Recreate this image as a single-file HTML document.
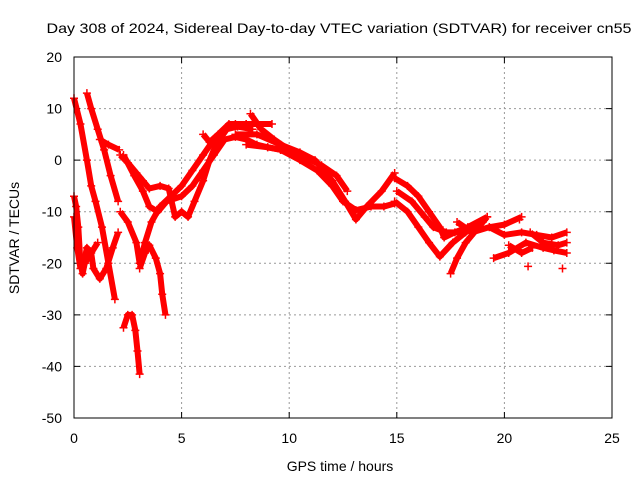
<!DOCTYPE html>
<html><head><meta charset="utf-8">
<style>
html,body{margin:0;padding:0;background:#fff;}
svg{display:block;font-family:"Liberation Sans",Arial,sans-serif;}
</style></head>
<body>
<svg id="chart" width="640" height="480" viewBox="0 0 640 480" xmlns="http://www.w3.org/2000/svg">
<rect width="640" height="480" fill="#fff"/>
<text x="339" y="33" font-size="14" text-anchor="middle" textLength="585" lengthAdjust="spacingAndGlyphs">Day 308 of 2024, Sidereal Day-to-day VTEC variation (SDTVAR) for receiver cn55</text>
<g id="grid"></g>
<g id="axes"></g>
<g id="series"></g>
<rect x="74" y="57" width="538" height="361" fill="none" stroke="#000" stroke-width="1"/>
<text x="340" y="471" font-size="14" text-anchor="middle">GPS time / hours</text>
<text x="0" y="0" font-size="14" text-anchor="middle" transform="translate(19,238) rotate(-90)">SDTVAR / TECUs</text>
</svg>
<script>
const xTicks = [0,5,10,15,20,25];
const yTicks = [20,10,0,-10,-20,-30,-40,-50];
const track01 = [[0,12],[0.3,7],[0.6,0],[0.8,-5],[1.0,-8],[1.3,-13],[1.6,-20],[1.9,-27]];
const track02 = [[0.6,13],[0.8,10],[1.1,6],[1.4,2],[1.7,-3],[2.05,-8]];
const track03 = [[1.2,4],[1.6,3],[2.1,2]];
const track04 = [[2.15,1],[2.5,-0.5],[2.9,-2.5],[3.2,-4],[3.5,-5.5],[4.0,-5],[4.4,-5.5],[4.7,-11],[5.0,-10],[5.3,-11],[5.6,-8],[6.0,-4],[6.3,0],[6.6,3],[7.1,6],[7.6,6.5],[8.3,6]];
const track05 = [[2.3,1],[2.8,-3],[3.2,-6],[3.5,-9],[3.9,-10],[4.3,-8],[5.0,-7],[5.5,-5],[6.0,-2],[6.5,1],[7.0,4],[7.5,4.5],[8.0,4],[8.5,3],[9,2.5],[9.6,2]];
const track06 = [[2.15,-10],[2.5,-12],[2.9,-16],[3.05,-20],[3.3,-16],[3.6,-12],[4.0,-9],[4.5,-7],[5,-5],[5.5,-2],[6,1],[6.5,4],[7,6],[7.5,7],[8,7],[8.5,7],[9.2,7]];
const track07 = [[6.0,5],[6.3,3.5],[6.7,5],[7.2,7],[8.0,7]];
const track08 = [[8.2,9],[8.7,6],[9.3,4],[10,2],[10.5,0.5]];
const track09 = [[3.05,-21],[3.3,-18],[3.5,-16.5],[3.8,-19],[4.0,-22],[4.1,-26],[4.25,-30]];
const track10 = [[2.3,-32.5],[2.5,-30],[2.7,-30],[2.85,-33],[2.95,-37],[3.05,-41.5]];
const track11 = [[0,-7],[0.1,-9],[0.2,-13],[0.3,-20],[0.4,-22],[0.5,-20]];
const track12 = [[0,-11],[0.15,-17],[0.3,-21]];
const track13 = [[0.45,-20],[0.6,-17],[0.8,-18],[0.9,-21],[1.2,-23],[1.5,-21],[1.8,-17],[2.05,-14]];
const track14 = [[0.5,-20],[1.1,-16]];
const track15 = [[7.5,5],[8.5,5],[9.6,3],[10.5,1.5],[11.2,0],[12,-4],[12.6,-8],[13.1,-11.5],[13.6,-9],[14.3,-6],[14.9,-2.5]];
const track16 = [[8,3],[9,2.5],[9.6,2],[10.5,0],[11.3,-2],[12,-5],[12.5,-8],[13.1,-9.7],[13.8,-9],[14.4,-9],[14.9,-8.4]];
const track17 = [[10.5,1],[11.5,-1],[12.2,-3],[12.7,-6]];
const track18 = [[14.9,-3.5],[15.5,-5],[16,-7],[16.5,-10],[17,-13],[17.2,-15],[17.7,-14],[18.3,-13],[19.2,-11]];
const track19 = [[14.9,-8],[15.5,-10],[16,-13],[16.5,-16],[17,-18.7],[17.6,-16],[18.2,-14],[19,-12]];
const track20 = [[15.0,-6],[15.7,-8],[16.3,-11],[16.7,-13],[17.3,-14],[18,-14]];
const track21 = [[17.5,-22],[17.8,-19],[18.2,-16],[18.6,-14],[19.2,-11]];
const track22 = [[17.8,-12],[18.5,-14],[19.3,-13],[20,-12.5],[20.8,-11]];
const track23 = [[19.3,-13],[20,-14.5],[20.8,-14],[21.5,-14.5],[22.2,-15],[22.9,-14]];
const track24 = [[21.2,-14],[21.8,-16],[22.5,-16.5],[22.9,-16]];
const track25 = [[19.5,-19],[20.2,-18],[21,-16],[21.8,-17],[22.3,-17.5],[22.9,-18]];
const track26 = [[20.2,-16.5],[20.8,-18],[21.3,-17]];
const singlePoints = [[21.1,-20.6],[22.7,-21],[20.7,-11.5]];
const tracks = [track01,track02,track03,track04,track05,track06,track07,track08,track09,track10,track11,track12,track13,track14,track15,track16,track17,track18,track19,track20,track21,track22,track23,track24,track25,track26];

const NS="http://www.w3.org/2000/svg";
const X0=74,X1=612,Y0=57,Y1=418;
function xs(h){return X0+(h-0)/(25-0)*(X1-X0);}
function ys(v){return Y0+(20-v)/(20-(-50))*(Y1-Y0);}
function mk(tag,attrs,parent){const e=document.createElementNS(NS,tag);for(const k in attrs)e.setAttribute(k,attrs[k]);parent.appendChild(e);return e;}
const grid=document.getElementById('grid'),axes=document.getElementById('axes'),series=document.getElementById('series');
xTicks.forEach(t=>{
  const x=xs(t);
  if(t>0&&t<25){const g=mk('line',{x1:x,y1:Y0,x2:x,y2:Y1,stroke:'#999','stroke-dasharray':'2,3','stroke-width':1},grid);
  
  }
  const tk=mk('path',{d:`M${x},${Y1}v-6M${x},${Y0}v6`,stroke:'#000'},axes);
  
  
  const lb=mk('text',{x:x,y:443,'font-size':14,'text-anchor':'middle'},axes);
  lb.textContent=t;
  
  
});
yTicks.forEach(t=>{
  const y=ys(t);
  if(t<20&&t>-50){const g=mk('line',{x1:X0,y1:y,x2:X1,y2:y,stroke:'#999','stroke-dasharray':'2,3','stroke-width':1},grid);
  
  }
  const tk=mk('path',{d:`M${X0},${y}h6M${X1},${y}h-6`,stroke:'#000'},axes);
  
  
  const lb=mk('text',{x:62,y:y+5,'font-size':14,'text-anchor':'end'},axes);
  lb.textContent=t;
  
  
});
function plus(h,v,parent){
  const x=xs(h),y=ys(v);
  const p=mk('path',{d:`M${x-4},${y}h8M${x},${y-4}v8`,stroke:'#f00','stroke-width':1.5},parent);
  
  
}
tracks.forEach((tr,i)=>{
  const g=mk('g',{},series);
  
  
  const pl=mk('polyline',{points:tr.map(p=>xs(p[0])+','+ys(p[1])).join(' '),fill:'none',stroke:'#f00','stroke-width':6,'stroke-linejoin':'round'},g);
  
  
  tr.forEach(p=>plus(p[0],p[1],g));
});
singlePoints.forEach(p=>plus(p[0],p[1],series));
</script>
</body></html>
